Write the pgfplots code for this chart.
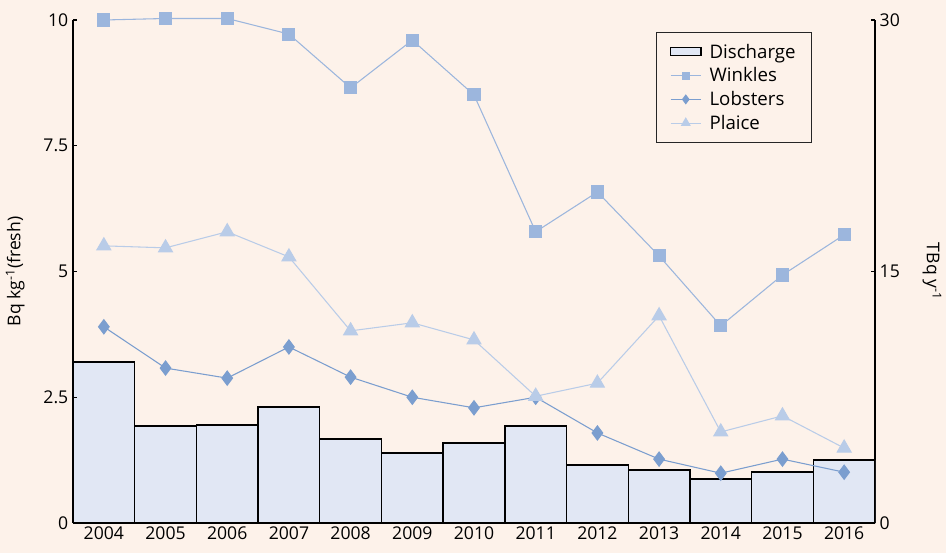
\documentclass[border=0pt]{standalone}
\usepackage{fontspec}
\setmainfont{Open Sans}
\usepackage{pgfplots}
\pgfplotsset{compat=1.18}
\definecolor{bg}{HTML}{FDF2EA}
\definecolor{barfill}{HTML}{E1E7F4}
\definecolor{winkles}{HTML}{9CB6DD}
\definecolor{lobsters}{HTML}{7B9ECF}
\definecolor{plaice}{HTML}{B9CCE8}
\pgfplotsset{
  lineleg/.style={legend image code/.code={
    \draw[mark repeat=2, mark phase=2, #1, every mark/.append style={scale=0.6}] plot coordinates {(0cm,0cm) (0.4cm,0cm) (0.8cm,0cm)};}},
  barleg/.style={legend image code/.code={
    \draw[#1] (0cm,-0.1cm) rectangle (0.8cm,0.12cm);}},
}
\begin{document}
\begin{tikzpicture}[font=\fontsize{13.2}{16}\selectfont]
\path[use as bounding box, fill=bg] (-54.75pt,-22.5pt) rectangle (654.75pt,392.25pt);
% Bars (right axis, TBq/y)
\begin{axis}[
  at={(0,0)}, anchor=south west,
  scale only axis, width=601.5pt, height=377.25pt,
  xmin=-0.5, xmax=12.5, ymin=0, ymax=30,
  axis x line*=bottom, axis y line*=right,
  axis line style={-, line width=0.9pt},
  xtick={0,...,12},
  xticklabels={2004,2005,2006,2007,2008,2009,2010,2011,2012,2013,2014,2015,2016},
  x tick style={draw=none},
  xticklabel style={yshift=1pt},
  ytick={0,15,30}, yticklabels={0,15,30},
  y tick style={line width=0.9pt, black},
  tick align=inside, major tick length=3pt,
  /pgf/number format/assume math mode=true,
  ylabel={TBq y\textsuperscript{-1}},
  ylabel style={at={(axis description cs:1.071,0.5)}, anchor=center, rotate=180},
]
\addplot[ybar, bar width=1, bar shift=0, fill=barfill, draw=black, line width=1pt] coordinates {
(0,9.6) (1,5.78) (2,5.84) (3,6.92) (4,5.0) (5,4.17) (6,4.77) (7,5.78) (8,3.46) (9,3.16) (10,2.62) (11,3.04) (12,3.76)};
\end{axis}
% Lines (left axis, Bq/kg)
\begin{axis}[
  at={(0,0)}, anchor=south west,
  scale only axis, width=601.5pt, height=377.25pt,
  xmin=-0.5, xmax=12.5, ymin=0, ymax=10,
  clip=false,
  axis x line=none, axis y line*=left,
  axis line style={-, line width=0.9pt},
  ytick={0,2.5,5,7.5,10}, yticklabels={0,2.5,5,7.5,10},
  y tick style={line width=0.9pt, black},
  tick align=inside, major tick length=3pt,
  /pgf/number format/assume math mode=true,
  ylabel={Bq kg\textsuperscript{-1}(fresh)},
  ylabel style={at={(axis description cs:-0.072,0.5)}, anchor=center},
  legend style={at={(0.727,0.976)}, anchor=north west, draw=black!85, line width=0.9pt, fill=bg,
    inner xsep=10pt, inner ysep=6.5pt, row sep=1.6pt, font=\fontsize{14}{16}\selectfont,
    /tikz/every odd column/.append style={column sep=4pt}},
  legend cell align=left,
]
\addlegendimage{barleg, fill=barfill, draw=black, line width=0.9pt}
\addlegendentry{Discharge}
\addplot[lineleg, color=winkles, line width=0.8pt, mark=square*, mark size=4.5pt, mark options={solid, fill=winkles, draw=winkles}] coordinates {
(0,10.0) (1,10.03) (2,10.03) (3,9.72) (4,8.65) (5,9.6) (6,8.51) (7,5.79) (8,6.58) (9,5.31) (10,3.92) (11,4.93) (12,5.73)};
\addlegendentry{Winkles}
\addplot[lineleg, color=lobsters, line width=0.8pt, mark=diamond*, mark size=5.3pt, mark options={solid, fill=lobsters, draw=lobsters}] coordinates {
(0,3.9) (1,3.08) (2,2.88) (3,3.5) (4,2.9) (5,2.5) (6,2.29) (7,2.5) (8,1.79) (9,1.27) (10,0.99) (11,1.27) (12,1.01)};
\addlegendentry{Lobsters}
\addplot[lineleg, color=plaice, line width=0.8pt, mark=triangle*, mark size=6pt, mark options={solid, fill=plaice, draw=plaice}] coordinates {
(0,5.51) (1,5.47) (2,5.79) (3,5.29) (4,3.82) (5,3.98) (6,3.64) (7,2.52) (8,2.78) (9,4.12) (10,1.81) (11,2.13) (12,1.49)};
\addlegendentry{Plaice}
\end{axis}
\end{tikzpicture}
\end{document}
